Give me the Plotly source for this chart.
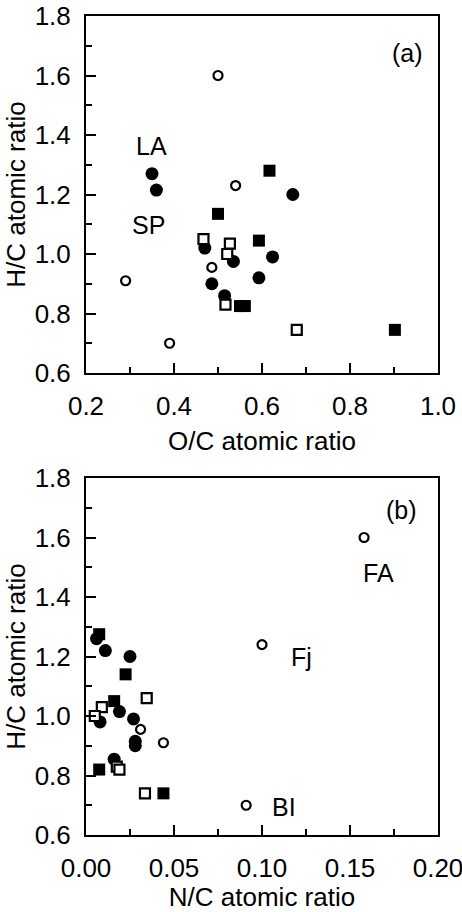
import plotly.graph_objects as go

# ---- Panel (a): O/C vs H/C ----
a_open_circle_oc = [0.50, 0.54, 0.486, 0.29, 0.39]
a_open_circle_hc = [1.60, 1.23, 0.955, 0.91, 0.70]
a_filled_circle_oc = [0.35, 0.36, 0.67, 0.47, 0.535, 0.624, 0.486, 0.593, 0.515]
a_filled_circle_hc = [1.27, 1.215, 1.20, 1.02, 0.975, 0.99, 0.90, 0.92, 0.86]
a_filled_square_oc = [0.617, 0.50, 0.593, 0.55, 0.561, 0.902]
a_filled_square_hc = [1.28, 1.135, 1.045, 0.825, 0.825, 0.745]
a_open_square_oc = [0.467, 0.527, 0.521, 0.517, 0.679]
a_open_square_hc = [1.05, 1.035, 1.00, 0.83, 0.745]

# ---- Panel (b): N/C vs H/C ----
b_open_circle_nc = [0.158, 0.100, 0.031, 0.044, 0.091]
b_open_circle_hc = [1.60, 1.24, 0.955, 0.91, 0.70]
b_filled_circle_nc = [0.006, 0.011, 0.025, 0.019, 0.027, 0.028, 0.028, 0.016, 0.008]
b_filled_circle_hc = [1.26, 1.22, 1.20, 1.015, 0.99, 0.915, 0.90, 0.855, 0.98]
b_filled_square_nc = [0.0075, 0.0225, 0.016, 0.0075, 0.044]
b_filled_square_hc = [1.275, 1.14, 1.05, 0.82, 0.74]
b_open_square_nc = [0.0345, 0.009, 0.005, 0.0175, 0.019, 0.0335]
b_open_square_hc = [1.06, 1.03, 1.00, 0.83, 0.82, 0.74]

# labels
a_labels = ["LA", "SP", "(a)"]
a_label_x = [0.349, 0.343, 0.93]
a_label_y = [1.364, 1.097, 1.676]
b_labels = ["FA", "Fj", "BI", "(b)"]
b_label_x = [0.166, 0.1226, 0.1125, 0.1795]
b_label_y = [1.48, 1.198, 0.695, 1.692]

FONT = "Liberation Sans, Arial, Helvetica, sans-serif"

fig = go.Figure()


def add_panel(xa, ya, fcx, fcy, osx, osy, fsx, fsy, ocx, ocy):
    fig.add_trace(go.Scatter(x=fcx, y=fcy, mode="markers", xaxis=xa, yaxis=ya,
                             marker=dict(symbol="circle", size=13, color="black",
                                         line=dict(width=0)), showlegend=False))
    fig.add_trace(go.Scatter(x=osx, y=osy, mode="markers", xaxis=xa, yaxis=ya,
                             marker=dict(symbol="square", size=10, color="white",
                                         line=dict(width=2.2, color="black")), showlegend=False))
    fig.add_trace(go.Scatter(x=fsx, y=fsy, mode="markers", xaxis=xa, yaxis=ya,
                             marker=dict(symbol="square", size=12, color="black",
                                         line=dict(width=0)), showlegend=False))
    fig.add_trace(go.Scatter(x=ocx, y=ocy, mode="markers", xaxis=xa, yaxis=ya,
                             marker=dict(symbol="circle", size=9, color="white",
                                         line=dict(width=2.2, color="black")), showlegend=False))


add_panel("x", "y", a_filled_circle_oc, a_filled_circle_hc, a_open_square_oc, a_open_square_hc,
          a_filled_square_oc, a_filled_square_hc, a_open_circle_oc, a_open_circle_hc)
add_panel("x2", "y2", b_filled_circle_nc, b_filled_circle_hc, b_open_square_nc, b_open_square_hc,
          b_filled_square_nc, b_filled_square_hc, b_open_circle_nc, b_open_circle_hc)

annotations = []
for t, x, y in zip(a_labels, a_label_x, a_label_y):
    annotations.append(dict(text=t, x=x, y=y, xref="x", yref="y", showarrow=False,
                            font=dict(family=FONT, size=25, color="black")))
for t, x, y in zip(b_labels, b_label_x, b_label_y):
    annotations.append(dict(text=t, x=x, y=y, xref="x2", yref="y2", showarrow=False,
                            font=dict(family=FONT, size=25, color="black")))

W, H = 462, 912
xdom = [86 / W, 438 / W]
ydom_a = [1 - 373 / H, 1 - 16 / H]
ydom_b = [1 - 835 / H, 1 - 478 / H]

common_axis = dict(showline=True, linecolor="black", linewidth=2, mirror=True,
                   ticks="inside", ticklen=10, tickwidth=2, tickcolor="black",
                   showgrid=False, zeroline=False, automargin=False,
                   ticklabeloverflow="allow",
                   tickfont=dict(family=FONT, size=26, color="black"))

minor_y = dict(ticks="inside", ticklen=6, tickwidth=2, tickcolor="black", dtick=0.1)

fig.update_layout(
    template="none",
    width=W, height=H, margin=dict(l=0, r=0, t=0, b=0),
    paper_bgcolor="white", plot_bgcolor="white",
    xaxis=dict(domain=xdom, anchor="y", range=[0.2, 1.0], dtick=0.2, tick0=0.2,
               tickformat=".1f", ticklabelstandoff=9,
               minor=dict(ticks="inside", ticklen=6, tickwidth=2, tickcolor="black", dtick=0.1),
               title=dict(text="O/C atomic ratio", standoff=12,
                          font=dict(family=FONT, size=26, color="black")),
               **common_axis),
    yaxis=dict(domain=ydom_a, anchor="x", range=[0.6, 1.8], dtick=0.2, tick0=0.6,
               tickformat=".1f", ticklabelstandoff=8,
               minor=minor_y,
               title=dict(text="H/C atomic ratio", standoff=2,
                          font=dict(family=FONT, size=26, color="black")),
               **common_axis),
    xaxis2=dict(domain=xdom, anchor="y2", range=[0.0, 0.2], dtick=0.05, tick0=0,
                tickformat=".2f", ticklabelstandoff=9,
                minor=dict(ticks="inside", ticklen=6, tickwidth=2, tickcolor="black", dtick=0.025),
                title=dict(text="N/C atomic ratio", standoff=14,
                           font=dict(family=FONT, size=26, color="black")),
                **common_axis),
    yaxis2=dict(domain=ydom_b, anchor="x2", range=[0.6, 1.8], dtick=0.2, tick0=0.6,
                tickformat=".1f", ticklabelstandoff=8,
                minor=minor_y,
                title=dict(text="H/C atomic ratio", standoff=2,
                           font=dict(family=FONT, size=26, color="black")),
                **common_axis),
    annotations=annotations,
)

fig.write_html("out.html", config={"displayModeBar": False},
               post_script="document.body.style.margin='0';document.body.style.overflow='hidden';")
